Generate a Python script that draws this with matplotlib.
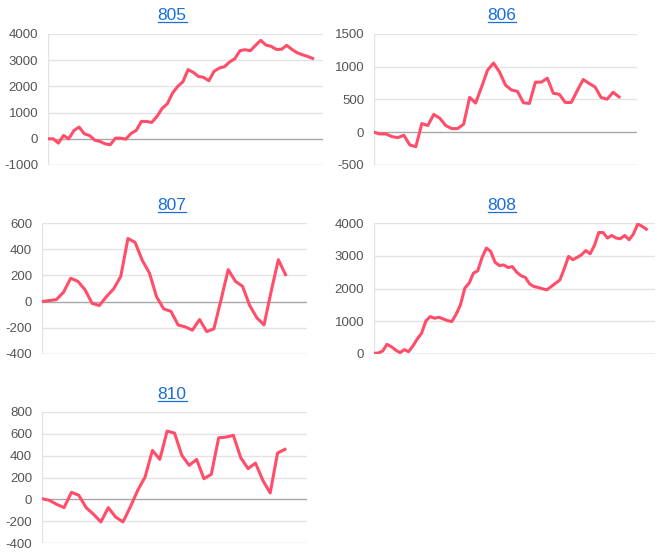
import matplotlib
matplotlib.use('Agg')
import matplotlib.pyplot as plt
from matplotlib.lines import Line2D

plt.rcParams['font.family'] = ['Liberation Sans', 'DejaVu Sans']

W, H = 666, 553

# 数据
titles = ['805', '806', '807', '808', '810']
n_labels = [54, 45, 38, 66, 37]  # x轴类别数（线不一定画满）

s805 = [0, 0, -165, 127, 0, 318, 446, 191, 127, -51, -102, -191, -229, 25, 25, -13,
        204, 318, 662, 662, 624, 853, 1159, 1338, 1745, 2000, 2178, 2640, 2535, 2382,
        2344, 2217, 2573, 2700, 2752, 2930, 3057, 3363, 3401, 3363, 3567, 3758, 3580,
        3529, 3414, 3414, 3567, 3414, 3287, 3210, 3146, 3070]
s806 = [0, -26, -26, -67, -82, -46, -195, -220, 133, 103, 272, 215, 103, 56, 56, 123,
        533, 446, 692, 949, 1056, 920, 720, 645, 625, 450, 440, 765, 765, 825, 595, 580,
        455, 455, 635, 805, 745, 690, 530, 505, 610, 540]
s807 = [0, 8, 15, 71, 178, 155, 91, -13, -30, 38, 97, 193, 482, 452, 315, 218, 36, -56,
        -74, -178, -193, -218, -137, -229, -208, 15, 244, 155, 117, -30, -124, -178, 79,
        320, 206]
s808 = [20, 30, 90, 296, 224, 122, 40, 133, 71, 245, 459, 633, 1010, 1143, 1092, 1122,
        1071, 1020, 990, 1214, 1500, 2010, 2163, 2469, 2541, 2949, 3235, 3130, 2800, 2700,
        2720, 2640, 2670, 2500, 2390, 2340, 2140, 2060, 2030, 1990, 1960, 2060, 2160, 2260,
        2600, 2980, 2880, 2950, 3030, 3160, 3060, 3320, 3710, 3710, 3540, 3620, 3540, 3520,
        3620, 3490, 3660, 3970, 3900, 3810]
s810 = [6, -9, -46, -76, 64, 37, -76, -137, -207, -76, -162, -207, -70, 82, 204, 448,
        366, 625, 607, 403, 311, 366, 189, 229, 564, 570, 586, 381, 281, 332, 174, 58,
        424, 458]
series = [s805, s806, s807, s808, s810]

y_ranges = [(-1000, 4000, 1000), (-500, 1500, 500), (-400, 600, 200),
            (0, 4000, 1000), (-400, 800, 200)]

# 布局（像素：左, 右, 上, 下）
boxes = [(48, 323, 34, 165), (374, 637, 34, 165), (42, 307, 223, 354),
         (374, 655, 223, 354), (42, 307, 412, 543)]
title_xy = [(172, 20.5), (502, 20.5), (172, 210), (502, 210), (172, 399)]

line_color = '#ff4d6a'
title_color = '#1a6ed8'

fig = plt.figure(figsize=(W / 100, H / 100), dpi=100)

for name, data, n, (y0, y1, step), (l, r, t, b), (tx, ty) in zip(
        titles, series, n_labels, y_ranges, boxes, title_xy):
    ax = fig.add_axes([l / W, 1 - b / H, (r - l) / W, (b - t) / H])
    ticks = list(range(y0, y1 + 1, step))
    for v in ticks:
        if v == 0:
            c = '#a8a8a8'
        elif v == y0:
            c = '#cccccc'
        else:
            c = '#e3e3e3'
        ax.axhline(v, color=c, lw=1, zorder=1)
    ax.axvline(0, color='#e3e3e3', lw=1, zorder=1)
    ax.plot(range(len(data)), data, color=line_color, lw=2.2, zorder=3,
            solid_joinstyle='round')
    ax.set_xlim(0, n - 1)
    ax.set_ylim(y0, y1)
    ax.set_yticks(ticks)
    ax.set_yticklabels([str(v) for v in ticks])
    ax.set_xticks([])
    ax.tick_params(axis='y', length=0, pad=7, labelsize=9.5, labelcolor='#555555')
    for sp in ax.spines.values():
        sp.set_visible(False)
    ax.patch.set_alpha(0)

    txt = fig.text(tx / W, 1 - ty / H, name, ha='center', va='baseline',
                   fontsize=12.5, color=title_color)
    fig.canvas.draw()
    bb = txt.get_window_extent()
    uy = 1 - (ty + 1.8) / H
    fig.add_artist(Line2D([bb.x0 / W, bb.x1 / W], [uy, uy], color=title_color, lw=0.9))

fig.savefig('out.png', dpi=100)
